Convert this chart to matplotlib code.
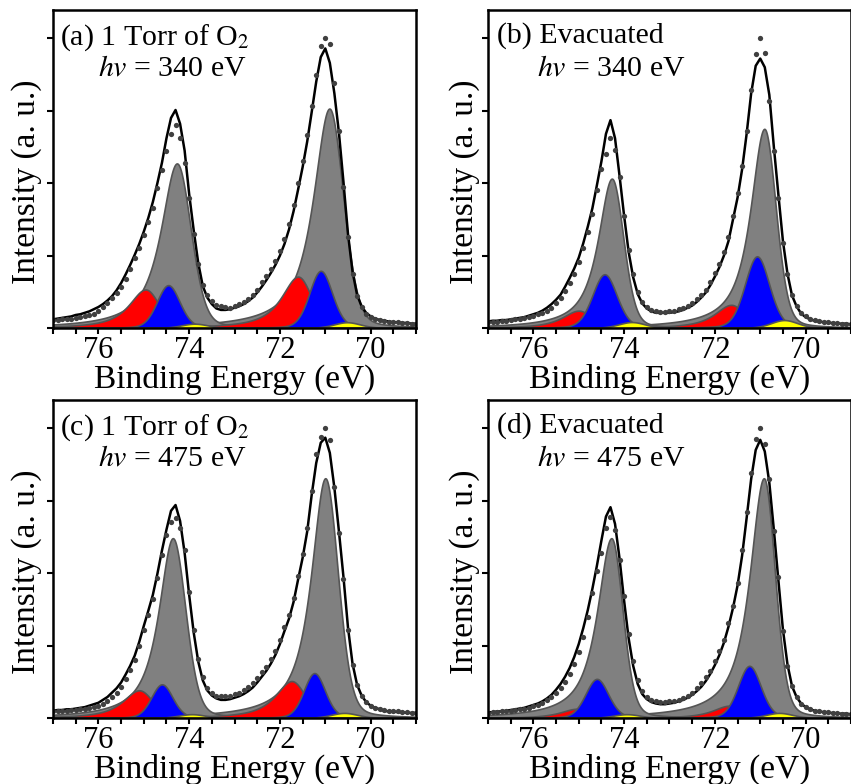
import numpy as np
import matplotlib.pyplot as plt

plt.rcParams['font.family'] = ['Liberation Serif']
plt.rcParams['mathtext.fontset'] = 'stix'

# measured binding energy grid (eV), 77.0 -> 69.0 in 0.1 eV steps
energy_pts = np.linspace(77.0, 69.0, 81)

# black curve in each panel
line_a = [0.12, 0.13, 0.14, 0.15, 0.16, 0.18, 0.19, 0.21, 0.23, 0.26,
          0.29, 0.33, 0.38, 0.44, 0.52, 0.62, 0.74, 0.87, 1.01, 1.16,
          1.33, 1.52, 1.74, 2.00, 2.28, 2.62, 2.90, 3.01, 2.82, 2.45,
          1.85, 1.35, 0.90, 0.58, 0.42, 0.33, 0.27, 0.25, 0.25, 0.26,
          0.28, 0.30, 0.33, 0.37, 0.42, 0.49, 0.57, 0.66, 0.76, 0.87,
          1.00, 1.16, 1.36, 1.61, 1.91, 2.22, 2.57, 2.98, 3.40, 3.74,
          3.86, 3.66, 3.24, 2.70, 2.02, 1.30, 0.78, 0.46, 0.30, 0.21,
          0.16, 0.13, 0.11, 0.10, 0.09, 0.08, 0.08, 0.07, 0.07, 0.06,
          0.06]
line_b = [0.09, 0.10, 0.10, 0.11, 0.11, 0.12, 0.13, 0.14, 0.15, 0.17,
          0.19, 0.21, 0.24, 0.28, 0.33, 0.39, 0.46, 0.57, 0.69, 0.82,
          0.97, 1.17, 1.40, 1.65, 1.97, 2.30, 2.68, 2.87, 2.62, 2.10,
          1.55, 1.05, 0.70, 0.47, 0.34, 0.27, 0.23, 0.21, 0.21, 0.21,
          0.21, 0.22, 0.23, 0.25, 0.28, 0.31, 0.36, 0.42, 0.49, 0.59,
          0.71, 0.84, 1.00, 1.20, 1.50, 1.80, 2.19, 2.68, 3.24, 3.62,
          3.72, 3.60, 3.22, 2.50, 1.84, 1.20, 0.75, 0.45, 0.30, 0.20,
          0.15, 0.12, 0.10, 0.09, 0.08, 0.07, 0.07, 0.06, 0.06, 0.06,
          0.05]
line_c = [0.10, 0.11, 0.11, 0.12, 0.12, 0.13, 0.14, 0.15, 0.17, 0.19,
          0.21, 0.25, 0.29, 0.35, 0.41, 0.49, 0.60, 0.72, 0.86, 1.05,
          1.27, 1.48, 1.70, 1.99, 2.31, 2.60, 2.86, 2.94, 2.72, 2.28,
          1.70, 1.18, 0.78, 0.52, 0.38, 0.31, 0.27, 0.25, 0.25, 0.26,
          0.28, 0.30, 0.33, 0.37, 0.42, 0.49, 0.57, 0.65, 0.75, 0.87,
          1.02, 1.20, 1.37, 1.60, 1.91, 2.21, 2.57, 3.08, 3.52, 3.80,
          3.87, 3.66, 3.18, 2.58, 1.95, 1.25, 0.75, 0.46, 0.31, 0.22,
          0.17, 0.14, 0.12, 0.10, 0.09, 0.09, 0.08, 0.08, 0.07, 0.07,
          0.07]
line_d = [0.08, 0.08, 0.09, 0.09, 0.10, 0.11, 0.12, 0.13, 0.14, 0.16,
          0.18, 0.20, 0.23, 0.27, 0.32, 0.39, 0.47, 0.57, 0.69, 0.84,
          1.02, 1.24, 1.49, 1.78, 2.10, 2.45, 2.78, 2.91, 2.68, 2.20,
          1.62, 1.10, 0.72, 0.47, 0.33, 0.26, 0.22, 0.20, 0.19, 0.19,
          0.20, 0.21, 0.23, 0.25, 0.28, 0.32, 0.37, 0.43, 0.51, 0.61,
          0.73, 0.87, 1.04, 1.26, 1.52, 1.83, 2.24, 2.76, 3.30, 3.70,
          3.84, 3.68, 3.25, 2.60, 1.90, 1.22, 0.74, 0.44, 0.29, 0.20,
          0.15, 0.12, 0.10, 0.09, 0.08, 0.07, 0.07, 0.06, 0.06, 0.06,
          0.05]

# measured points
dots_a = [0.11, 0.11, 0.12, 0.12, 0.13, 0.14, 0.15, 0.16, 0.18, 0.19,
          0.23, 0.29, 0.35, 0.42, 0.48, 0.56, 0.68, 0.82, 0.96, 1.11,
          1.29, 1.46, 1.66, 1.93, 2.18, 2.45, 2.68, 2.80, 2.62, 2.28,
          1.80, 1.30, 0.88, 0.60, 0.46, 0.37, 0.32, 0.30, 0.29, 0.28,
          0.30, 0.33, 0.36, 0.40, 0.46, 0.53, 0.63, 0.72, 0.82, 0.93,
          1.07, 1.23, 1.44, 1.70, 2.00, 2.30, 2.66, 3.06, 3.50, 3.90,
          4.00, 3.92, 3.38, 2.72, 1.95, 1.25, 0.74, 0.44, 0.29, 0.20,
          0.15, 0.12, 0.11, 0.10, 0.09, 0.08, 0.08, 0.07, 0.07, 0.06,
          0.06]
dots_b = [0.08, 0.09, 0.09, 0.10, 0.10, 0.11, 0.12, 0.13, 0.14, 0.15,
          0.17, 0.19, 0.21, 0.24, 0.28, 0.34, 0.41, 0.51, 0.62, 0.75,
          0.91, 1.10, 1.33, 1.58, 1.90, 2.20, 2.40, 2.62, 2.46, 2.08,
          1.55, 1.08, 0.74, 0.50, 0.36, 0.29, 0.25, 0.23, 0.22, 0.22,
          0.23, 0.24, 0.26, 0.28, 0.31, 0.34, 0.40, 0.46, 0.53, 0.63,
          0.76, 0.89, 1.05, 1.25, 1.55, 1.86, 2.24, 2.72, 3.29, 3.78,
          4.00, 3.80, 3.13, 2.45, 1.80, 1.18, 0.74, 0.45, 0.30, 0.21,
          0.16, 0.13, 0.11, 0.10, 0.09, 0.08, 0.07, 0.07, 0.06, 0.06,
          0.06]
dots_c = [0.09, 0.10, 0.10, 0.10, 0.11, 0.11, 0.12, 0.13, 0.14, 0.15,
          0.17, 0.20, 0.23, 0.29, 0.35, 0.43, 0.54, 0.66, 0.80, 1.00,
          1.21, 1.42, 1.64, 1.93, 2.25, 2.52, 2.70, 2.76, 2.62, 2.32,
          1.74, 1.22, 0.82, 0.56, 0.42, 0.34, 0.31, 0.30, 0.30, 0.31,
          0.33, 0.35, 0.39, 0.43, 0.48, 0.55, 0.63, 0.71, 0.81, 0.93,
          1.08, 1.26, 1.42, 1.65, 1.96, 2.26, 2.62, 3.14, 3.65, 3.88,
          4.00, 3.84, 3.19, 2.56, 1.92, 1.22, 0.73, 0.45, 0.31, 0.22,
          0.17, 0.14, 0.12, 0.11, 0.10, 0.09, 0.09, 0.08, 0.08, 0.07,
          0.07]
dots_d = [0.07, 0.08, 0.08, 0.09, 0.09, 0.10, 0.11, 0.12, 0.13, 0.14,
          0.16, 0.18, 0.21, 0.25, 0.29, 0.34, 0.41, 0.50, 0.61, 0.75,
          0.91, 1.12, 1.40, 1.72, 2.03, 2.28, 2.62, 2.78, 2.60, 2.18,
          1.68, 1.16, 0.78, 0.52, 0.37, 0.29, 0.25, 0.23, 0.22, 0.22,
          0.23, 0.24, 0.25, 0.28, 0.31, 0.35, 0.41, 0.48, 0.56, 0.65,
          0.78, 0.92, 1.08, 1.31, 1.55, 1.86, 2.32, 2.85, 3.38, 3.85,
          4.00, 3.78, 3.30, 2.58, 1.95, 1.20, 0.72, 0.44, 0.29, 0.20,
          0.15, 0.12, 0.10, 0.09, 0.08, 0.08, 0.07, 0.07, 0.06, 0.06,
          0.06]

lines = [line_a, line_b, line_c, line_d]
dots = [dots_a, dots_b, dots_c, dots_d]

# fitted Pt 4f7/2 components (position eV, height, half widths); 4f5/2 partner via split/ratio
grey_pos = [70.91, 70.91, 71.00, 70.92]
grey_amp = [3.03, 2.75, 3.31, 3.31]
grey_wl = [0.43, 0.37, 0.38, 0.38]
grey_wr = [0.36, 0.30, 0.33, 0.29]
blue_pos = [71.10, 71.07, 71.24, 71.24]
blue_amp = [0.79, 0.99, 0.62, 0.72]
blue_w = [0.30, 0.32, 0.28, 0.30]
red_pos = [71.60, 71.64, 71.74, 71.68]
red_amp = [0.71, 0.32, 0.51, 0.17]
yellow_pos = [70.52, 70.47, 70.58, 70.58]
yellow_amp = [0.08, 0.11, 0.07, 0.07]
so_split = 3.36
so_ratio = 0.75

panel_tags = ['(a)', '(b)', '(c)', '(d)']
conditions = ['1 Torr of O$_2$', 'Evacuated', '1 Torr of O$_2$', 'Evacuated']
photon_energy = [340, 340, 475, 475]

energy = np.linspace(69, 77, 801)


def line(x, c, h, wl, wr, ml, mr):
    w = np.where(x > c, wl, wr)
    m = np.where(x > c, ml, mr)
    d = (x - c) / w
    return h * ((1 - m) * np.exp(-np.log(2) * d ** 2) + m / (1 + d ** 2))


def doublet(x, c, h, wl, wr, ml, mr):
    return [line(x, c, h, wl, wr, ml, mr),
            line(x, c + so_split, h * so_ratio, wl, wr, ml, mr)]


fig = plt.figure(figsize=(8.51, 7.84), dpi=100)
boxes = [(0.0623, 0.5816), (0.5734, 0.5816), (0.0623, 0.0842), (0.5734, 0.0842)]
tag_x = [0.019, 0.025, 0.019, 0.025]
hv_x = [0.124, 0.135, 0.124, 0.135]
ylab_x = [-0.030, -0.022, -0.030, -0.022]

for i in range(4):
    ax = fig.add_axes([boxes[i][0], boxes[i][1], 0.4266, 0.4056])

    grey = doublet(energy, grey_pos[i], grey_amp[i], grey_wl[i], grey_wr[i], 0.9, 0.2)
    red = doublet(energy, red_pos[i], red_amp[i], 0.45, 0.35, 0.9, 0.2)
    blue = doublet(energy, blue_pos[i], blue_amp[i], blue_w[i], blue_w[i], 0.2, 0.2)
    yellow = doublet(energy, yellow_pos[i], yellow_amp[i], 0.35, 0.35, 0.2, 0.2)

    for comps, col in [(grey, '#808080'), (red, '#ff0000'), (blue, '#0000ff'), (yellow, '#ffff00')]:
        for y in comps:
            ax.fill_between(energy, 0, y, facecolor=col, edgecolor='#555555', lw=1.2)

    ax.plot(energy_pts, lines[i], color='black', lw=1.8)
    ax.plot(energy_pts, dots[i], 'o', color='#404040', ms=3.8, mew=0)

    ax.set_xlim(77, 69)
    ax.set_ylim(0, 4.39)
    ax.set_xticks([76, 74, 72, 70])
    ax.set_xticks(np.arange(69, 77.01, 0.5), minor=True)
    ax.set_yticks([0, 1, 2, 3, 4])
    ax.set_yticklabels([])
    ax.tick_params(axis='both', which='both', direction='out', width=1.5, length=4,
                   labelsize=22, top=False, right=False, pad=2)
    for s in ax.spines.values():
        s.set_linewidth(1.8)
    ax.set_xlabel('Binding Energy (eV)', fontsize=24, labelpad=-1)
    ax.set_ylabel('Intensity (a. u.)', fontsize=24)
    ax.yaxis.set_label_coords(ylab_x[i], 0.46)

    ax.text(tag_x[i], 0.962, panel_tags[i] + ' ' + conditions[i], transform=ax.transAxes,
            fontsize=21.5, va='top', ha='left')
    ax.text(hv_x[i], 0.858, '$hv$ = %d eV' % photon_energy[i], transform=ax.transAxes,
            fontsize=21.5, va='top', ha='left')

fig.savefig('out.png', dpi=100)
